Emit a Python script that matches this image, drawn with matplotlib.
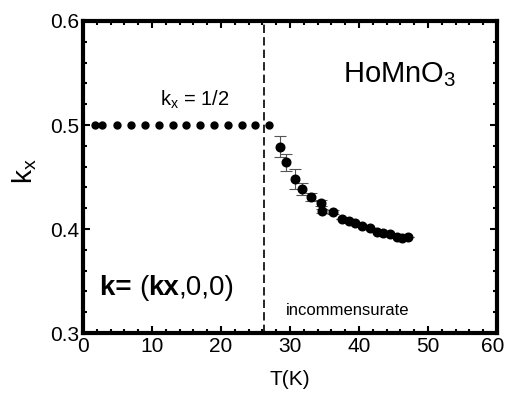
import numpy as np
import matplotlib
matplotlib.use("Agg")
import matplotlib.pyplot as plt
from matplotlib.ticker import MultipleLocator
from matplotlib.transforms import ScaledTranslation

plt.rcParams['font.family'] = ['Liberation Sans', 'DejaVu Sans']
plt.rcParams['mathtext.fontset'] = 'custom'
plt.rcParams['mathtext.rm'] = 'Liberation Sans'
plt.rcParams['mathtext.it'] = 'Liberation Sans'
plt.rcParams['mathtext.bf'] = 'Liberation Sans:bold'

# commensurate phase, kx = 1/2
t_comm = [1.7, 2.8, 5, 7, 9, 11, 13, 15, 17, 19, 21, 23, 25, 27]
k_comm = [0.5] * len(t_comm)

# incommensurate phase
t_inc = [28.6, 29.4, 30.7, 31.8, 33.0, 34.5, 34.6, 36.3, 37.5, 38.5, 39.4,
         40.4, 41.6, 42.6, 43.5, 44.5, 45.5, 46.3, 47.1]
k_inc = [0.479, 0.464, 0.448, 0.4385, 0.431, 0.4247, 0.4176, 0.4166, 0.410,
         0.4077, 0.4055, 0.403, 0.4006, 0.3974, 0.3964, 0.395, 0.3926, 0.391, 0.3926]
k_err = [0.010, 0.008, 0.010, 0.006, 0.004, 0.003, 0.002, 0.002, 0.0, 0.0, 0.0,
         0.0, 0.0, 0.0, 0.0, 0.0, 0.0, 0.0, 0.0]

t_transition = 26.3

fig = plt.figure(figsize=(5.06, 3.96), dpi=100)
ax = fig.add_axes([0.164, 0.159, 0.818, 0.788])

ax.plot(t_comm, k_comm, 'o', color='black', ms=5)
ax.errorbar(t_inc, k_inc, yerr=k_err, fmt='none', ecolor='#555555',
            elinewidth=0.8, capsize=4, capthick=0.8)
ax.plot(t_inc, k_inc, 'o', color='black', ms=6.2)

ax.axvline(t_transition, color='black', ls=(0, (5, 2.5)), lw=1.2)

ax.set_xlim(0, 60)
ax.set_ylim(0.3, 0.6)
ax.xaxis.set_major_locator(MultipleLocator(10))
ax.xaxis.set_minor_locator(MultipleLocator(2))
ax.yaxis.set_major_locator(MultipleLocator(0.1))
ax.yaxis.set_minor_locator(MultipleLocator(0.02))
ax.tick_params(which='both', direction='in', top=True, right=True, labelsize=15, width=1.5)
ax.tick_params(which='major', length=5, pad=3)
ax.tick_params(which='minor', length=3)
for s in ax.spines.values():
    s.set_linewidth(3)

ax.set_xticks([0, 10, 20, 30, 40, 50, 60])
ax.set_yticks([0.3, 0.4, 0.5, 0.6])
ax.set_yticklabels(['0.3', '0.4', '0.5', '0.6'])
# keep the last x label inside the canvas
last = ax.get_xticklabels()[-1]
last.set_transform(last.get_transform() + ScaledTranslation(-4 / 100, 0, fig.dpi_scale_trans))

ax.set_xlabel('T(K)', fontsize=15)
ax.xaxis.set_label_coords(0.5, -0.12)
ax.text(-0.14, 0.52, r'k$_\mathregular{x}$', fontsize=20, rotation=90,
        ha='center', va='center', transform=ax.transAxes)

ax.text(45.9, 0.548, r'HoMnO$_\mathregular{3}$', fontsize=21, ha='center', va='center')
ax.text(16.2, 0.524, r'k$_\mathregular{x}$ = 1/2', fontsize=14.5, ha='center', va='center')

# mixed bold / regular label, chained piece by piece
parts = [('k= ', 'bold'), ('(', 'normal'), ('kx', 'bold'), (',0,0)', 'normal')]
prev = ax.text(2.4, 0.337, parts[0][0], fontsize=20, fontweight=parts[0][1],
               ha='left', va='baseline')
for txt, w in parts[1:]:
    prev = ax.annotate(txt, xy=(1, 0), xycoords=prev, fontsize=20, fontweight=w,
                       ha='left', va='bottom')

ax.text(38.3, 0.322, 'incommensurate', fontsize=12, ha='center', va='center')

fig.savefig('out.png', dpi=100)
